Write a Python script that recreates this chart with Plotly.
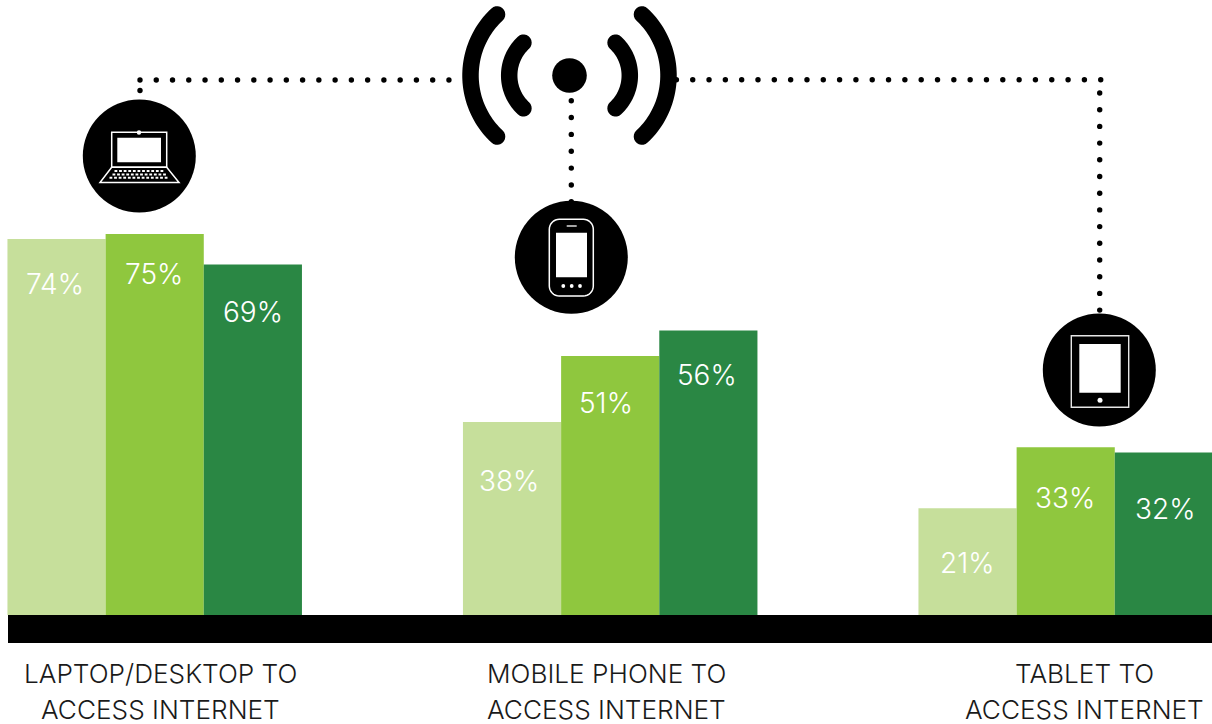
import numpy as np
import plotly.graph_objects as go

# Survey values, percent of respondents, one list per age band shade
categories = ["Laptop/Desktop", "Mobile phone", "Tablet"]
series_light = [74, 38, 21]
series_mid = [75, 51, 33]
series_dark = [69, 56, 32]
colors = ["#c6df9b", "#8fc73e", "#2a8744"]

label_lines = [
    ["LAPTOP/DESKTOP TO", "ACCESS INTERNET"],
    ["MOBILE PHONE TO", "ACCESS INTERNET"],
    ["TABLET TO", "ACCESS INTERNET"],
]

W, H = 1212, 724
BASE_Y = 615          # pixel row of the zero line
PX_PER_UNIT = 5.08    # vertical scale of the bars
GROUP_STEP = 455.5
FIRST_GROUP = 154.7
GROUP_WIDTH = 294.5

FONT = "Inter, Lato, sans-serif"
INK = "#000000"
PAPER = "#ffffff"

fig = go.Figure()

for name, values, color in zip(["a", "b", "c"], [series_light, series_mid, series_dark], colors):
    fig.add_trace(go.Bar(x=categories, y=values, name=name, marker=dict(color=color, line_width=0),
                         hoverinfo="skip"))


# --- decoration drawn in a pixel-sized overlay coordinate system ---
def px_shape(kind, x0, y0, x1, y1, fill=None, line=None, lw=0, dash=None):
    return dict(type=kind, xref="x2", yref="y2", x0=x0, y0=y0, x1=x1, y1=y1,
                fillcolor=fill, line=dict(color=line or "rgba(0,0,0,0)", width=lw, dash=dash or "solid"),
                layer="above")


def dot(cx, cy, r, fill=PAPER):
    return px_shape("circle", cx - r, cy - r, cx + r, cy + r, fill=fill)


def poly(points, fill=None, line=None, lw=0, closed=True):
    d = "M" + "L".join(f"{x:.2f},{y:.2f}" for x, y in points) + ("Z" if closed else "")
    return dict(type="path", xref="x2", yref="y2", path=d, fillcolor=fill,
                line=dict(color=line or "rgba(0,0,0,0)", width=lw), layer="above")


def round_rect(x0, y0, x1, y1, r, line, lw):
    t = np.linspace(0, np.pi / 2, 9)
    pts = []
    for cx, cy, a in [(x1 - r, y0 + r, -np.pi / 2), (x1 - r, y1 - r, 0),
                      (x0 + r, y1 - r, np.pi / 2), (x0 + r, y0 + r, np.pi)]:
        pts += [(cx + r * np.cos(a + s), cy + r * np.sin(a + s)) for s in t]
    return poly(pts, line=line, lw=lw)


def signal_arc(cx, cy, radius, half_angle, thick, side):
    """Thick arc with rounded ends, as a filled outline."""
    t = np.linspace(-half_angle, half_angle, 50)
    outer = [(cx + side * (radius + thick / 2) * np.cos(a), cy + (radius + thick / 2) * np.sin(a)) for a in t]
    inner = [(cx + side * (radius - thick / 2) * np.cos(a), cy + (radius - thick / 2) * np.sin(a)) for a in t[::-1]]
    cap = []
    for sign, seq in [(1, outer), (-1, inner)]:
        end = sign * half_angle
        ex, ey = cx + side * radius * np.cos(end), cy + radius * np.sin(end)
        u = np.linspace(0, np.pi, 12)
        start = np.arctan2(np.sin(end), side * np.cos(end))
        rot = side * sign
        cap.append([(ex + thick / 2 * np.cos(start + rot * s), ey + thick / 2 * np.sin(start + rot * s)) for s in u])
    return poly(outer + cap[0] + inner + cap[1], fill=INK)


shapes = [px_shape("rect", 8, BASE_Y, W, 643, fill=INK)]

# Signal symbol
CX, CY = 569.5, 75.5
shapes.append(dot(CX, CY, 17.3, INK))
for side in (-1, 1):
    shapes.append(signal_arc(CX + side * 15.5, CY, 83.5, np.radians(47), 16.5, side))
    shapes.append(signal_arc(CX + side * 15.5, CY, 44.8, np.radians(47), 16.5, side))

# Laptop badge
shapes.append(dot(139.3, 156, 56.5, INK))
shapes.append(px_shape("rect", 111.7, 132.3, 166.7, 167.3, line=PAPER, lw=1.5))
shapes.append(px_shape("rect", 117.3, 137.7, 161, 162.3, fill=PAPER))
shapes.append(dot(139, 132.5, 2.2))
shapes.append(poly([(111.7, 167.3), (100, 182.5), (179, 182.5), (166.7, 167.3)], line=PAPER, lw=1.5))
for y, x0, x1 in [(171, 114.5, 163.5), (174.4, 112.5, 166), (177.8, 109.5, 168.5)]:
    shapes.append(px_shape("line", x0, y, x1, y, line=PAPER, lw=2, dash="2.8px,1.8px"))

# Phone badge
shapes.append(dot(571.3, 257.3, 56.5, INK))
shapes.append(round_rect(549.3, 219.3, 593.3, 296, 10, PAPER, 1.5))
shapes.append(px_shape("rect", 556, 232.7, 587, 277.3, fill=PAPER))
shapes.append(px_shape("line", 566.7, 226, 576.7, 226, line=PAPER, lw=1.3))
for x in (563.3, 571.7, 580):
    shapes.append(dot(x, 286, 1.9))

# Tablet badge
shapes.append(dot(1099.3, 370, 56.5, INK))
shapes.append(px_shape("rect", 1071.3, 335.7, 1128.7, 407.3, line="#e6e6e6", lw=1.4))
shapes.append(px_shape("rect", 1079.3, 344, 1120.7, 392.7, fill=PAPER))
shapes.append(dot(1100, 400.2, 2.5))

# Dotted connectors from the signal symbol to each device
dots_x = np.concatenate([
    140 + 16.26 * np.arange(20), [140],
    676.4 + 16.32 * np.arange(27), np.full(14, 1099.7),
    np.full(7, 571.3),
])
dots_y = np.concatenate([
    np.full(20, 80), [90.5],
    np.full(27, 79.7), 93 + 16.7 * np.arange(14),
    100.7 + 16.85 * np.arange(7),
])
fig.add_trace(go.Scatter(x=dots_x, y=dots_y, xaxis="x2", yaxis="y2", mode="markers",
                         marker=dict(color=INK, size=5.4), hoverinfo="skip"))

# Value labels centred in each bar's column
annotations = []
value_x = [[55, 154, 253], [509, 606, 707], [967, 1065, 1165]]
value_y = [[284, 274, 312], [481, 403, 375], [563, 498, 509]]
by_group = list(zip(series_light, series_mid, series_dark))
for vals, xs, ys in zip(by_group, value_x, value_y):
    for v, x, y in zip(vals, xs, ys):
        annotations.append(dict(xref="x2", yref="y2", x=x, y=y, text=f"{v}%", showarrow=False,
                                xanchor="center", yanchor="middle",
                                font=dict(family=FONT, size=28, color=PAPER, weight=300)))

# Group captions under the baseline
caption_x = [160, 606, 1084]
caption_y = [673, 709]
for lines, x in zip(label_lines, caption_x):
    for line, y in zip(lines, caption_y):
        annotations.append(dict(xref="x2", yref="y2", x=x, y=y, text=line, showarrow=False,
                                xanchor="center", yanchor="middle",
                                font=dict(family=FONT, size=26.2, color="#1a1a1a", weight=300)))

hidden = dict(visible=False, showgrid=False, zeroline=False, fixedrange=True)
fig.update_layout(
    width=W, height=H, margin=dict(l=0, r=0, t=0, b=0),
    paper_bgcolor=PAPER, plot_bgcolor=PAPER, showlegend=False,
    barmode="group", bargap=1 - GROUP_WIDTH / GROUP_STEP, bargroupgap=0,
    xaxis=dict(hidden, type="category", domain=[0, 1],
               range=[-FIRST_GROUP / GROUP_STEP, (W - FIRST_GROUP) / GROUP_STEP]),
    yaxis=dict(hidden, domain=[0, 1], range=[-(H - BASE_Y) / PX_PER_UNIT, BASE_Y / PX_PER_UNIT]),
    xaxis2=dict(hidden, overlaying="x", range=[0, W]),
    yaxis2=dict(hidden, overlaying="y", range=[H, 0]),
    shapes=shapes, annotations=annotations,
)

fig.write_html("out.html", config=dict(displayModeBar=False))
